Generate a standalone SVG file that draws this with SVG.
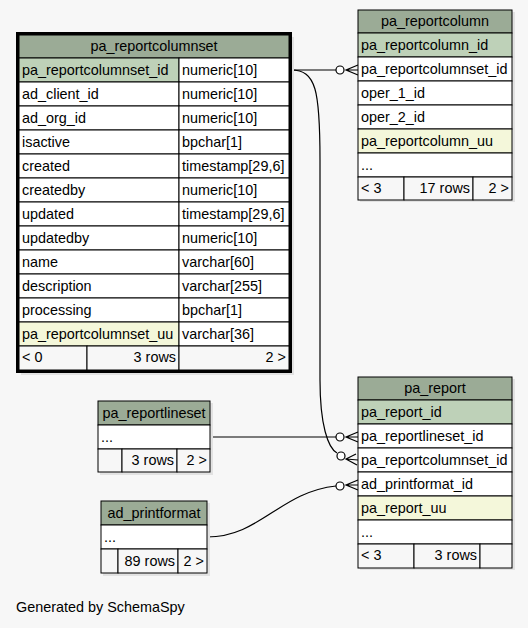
<svg xmlns="http://www.w3.org/2000/svg" width="528" height="628" viewBox="0 0 528 628">
<style>
text{font-family:"Liberation Sans",Arial,sans-serif;font-size:14.4px;fill:#000}
.c{text-anchor:middle}.r{text-anchor:end}
.h{fill:#9bab96;stroke:#000;stroke-width:1}
.pk{fill:#bed1b8;stroke:#000;stroke-width:1}
.uu{fill:#f4f7da;stroke:#000;stroke-width:1}
.w{fill:#fff;stroke:#000;stroke-width:1}
.f{fill:#f7f7f7;stroke:#000;stroke-width:1}
.sh{fill:#e2e2e2}
.ln{fill:none;stroke:#000;stroke-width:1.2}
.ci{fill:#fff;stroke:#000;stroke-width:1.2}
</style>
<rect width="528" height="628" fill="#f7f7f7"/>

<g id="connectors">
  <path class="ln" d="M291,70 L336,70"/>
  <circle class="ci" cx="340" cy="70" r="4"/>
  <path class="ln" d="M358,65 L346,70 L358,75 M346,70 L358,70"/>

  <path class="ln" d="M291,70 C316,70 320,90 320,160 L320,380 C320,425 328,448 337,453"/>
  <circle class="ci" cx="341" cy="456" r="4"/>
  <path class="ln" d="M356,454 L346,459 L357,465 M346,459 L358,460"/>

  <path class="ln" d="M210,437 L336,437"/>
  <circle class="ci" cx="340" cy="437" r="4"/>
  <path class="ln" d="M358,432 L346,437 L358,442 M346,437 L358,437"/>

  <path class="ln" d="M207,537 C260,537 280,492 336,486"/>
  <circle class="ci" cx="340" cy="486" r="4"/>
  <path class="ln" d="M358,480 L346,485 L358,490 M346,485 L358,485"/>
</g>

<g id="pa_reportcolumnset">
  <rect class="sh" x="21" y="37" width="273" height="338"/>
  <rect class="h" x="19" y="35" width="270" height="23"/>
  <text class="c" x="154" y="51">pa_reportcolumnset</text>
  <rect class="pk" x="19" y="58" width="160" height="24"/><rect class="w" x="179" y="58" width="110" height="24"/>
  <text x="22" y="75">pa_reportcolumnset_id</text><text x="182" y="75">numeric[10]</text>
  <rect class="w" x="19" y="82" width="160" height="24"/><rect class="w" x="179" y="82" width="110" height="24"/>
  <text x="22" y="99">ad_client_id</text><text x="182" y="99">numeric[10]</text>
  <rect class="w" x="19" y="106" width="160" height="24"/><rect class="w" x="179" y="106" width="110" height="24"/>
  <text x="22" y="123">ad_org_id</text><text x="182" y="123">numeric[10]</text>
  <rect class="w" x="19" y="130" width="160" height="24"/><rect class="w" x="179" y="130" width="110" height="24"/>
  <text x="22" y="147">isactive</text><text x="182" y="147">bpchar[1]</text>
  <rect class="w" x="19" y="154" width="160" height="24"/><rect class="w" x="179" y="154" width="110" height="24"/>
  <text x="22" y="171">created</text><text x="182" y="171">timestamp[29,6]</text>
  <rect class="w" x="19" y="178" width="160" height="24"/><rect class="w" x="179" y="178" width="110" height="24"/>
  <text x="22" y="195">createdby</text><text x="182" y="195">numeric[10]</text>
  <rect class="w" x="19" y="202" width="160" height="24"/><rect class="w" x="179" y="202" width="110" height="24"/>
  <text x="22" y="219">updated</text><text x="182" y="219">timestamp[29,6]</text>
  <rect class="w" x="19" y="226" width="160" height="24"/><rect class="w" x="179" y="226" width="110" height="24"/>
  <text x="22" y="243">updatedby</text><text x="182" y="243">numeric[10]</text>
  <rect class="w" x="19" y="250" width="160" height="24"/><rect class="w" x="179" y="250" width="110" height="24"/>
  <text x="22" y="267">name</text><text x="182" y="267">varchar[60]</text>
  <rect class="w" x="19" y="274" width="160" height="24"/><rect class="w" x="179" y="274" width="110" height="24"/>
  <text x="22" y="291">description</text><text x="182" y="291">varchar[255]</text>
  <rect class="w" x="19" y="298" width="160" height="24"/><rect class="w" x="179" y="298" width="110" height="24"/>
  <text x="22" y="315">processing</text><text x="182" y="315">bpchar[1]</text>
  <rect class="uu" x="19" y="322" width="160" height="24"/><rect class="w" x="179" y="322" width="110" height="24"/>
  <text x="22" y="339">pa_reportcolumnset_uu</text><text x="182" y="339">varchar[36]</text>
  <rect class="f" x="19" y="346" width="68" height="24"/><rect class="f" x="87" y="346" width="92" height="24"/><rect class="f" x="179" y="346" width="110" height="24"/>
  <text x="22" y="362">&lt; 0</text><text class="r" x="176" y="362">3 rows</text><text class="r" x="286" y="362">2 &gt;</text>
  <rect x="17.5" y="33.5" width="273" height="338" fill="none" stroke="#000" stroke-width="3"/>
</g>

<g id="pa_reportcolumn">
  <rect class="sh" x="360" y="12" width="155" height="190"/>
  <rect class="h" x="358" y="10" width="154" height="23"/>
  <text class="c" x="435" y="26">pa_reportcolumn</text>
  <rect class="pk" x="358" y="33" width="154" height="24"/><text x="361" y="50">pa_reportcolumn_id</text>
  <rect class="w" x="358" y="57" width="154" height="24"/><text x="361" y="74">pa_reportcolumnset_id</text>
  <rect class="w" x="358" y="81" width="154" height="24"/><text x="361" y="98">oper_1_id</text>
  <rect class="w" x="358" y="105" width="154" height="24"/><text x="361" y="122">oper_2_id</text>
  <rect class="uu" x="358" y="129" width="154" height="24"/><text x="361" y="146">pa_reportcolumn_uu</text>
  <rect class="w" x="358" y="153" width="154" height="24"/><text x="361" y="170">...</text>
  <rect class="f" x="358" y="177" width="46" height="23"/><rect class="f" x="404" y="177" width="69" height="23"/><rect class="f" x="473" y="177" width="39" height="23"/>
  <text x="361" y="193">&lt; 3</text><text class="r" x="470" y="193">17 rows</text><text class="r" x="509" y="193">2 &gt;</text>
</g>

<g id="pa_report">
  <rect class="sh" x="360" y="379" width="155" height="191"/>
  <rect class="h" x="358" y="377" width="154" height="23"/>
  <text class="c" x="435" y="393">pa_report</text>
  <rect class="pk" x="358" y="400" width="154" height="24"/><text x="361" y="417">pa_report_id</text>
  <rect class="w" x="358" y="424" width="154" height="24"/><text x="361" y="441">pa_reportlineset_id</text>
  <rect class="w" x="358" y="448" width="154" height="24"/><text x="361" y="465">pa_reportcolumnset_id</text>
  <rect class="w" x="358" y="472" width="154" height="24"/><text x="361" y="489">ad_printformat_id</text>
  <rect class="uu" x="358" y="496" width="154" height="24"/><text x="361" y="513">pa_report_uu</text>
  <rect class="w" x="358" y="520" width="154" height="24"/><text x="361" y="537">...</text>
  <rect class="f" x="358" y="544" width="56" height="24"/><rect class="f" x="414" y="544" width="66" height="24"/><rect class="f" x="480" y="544" width="32" height="24"/>
  <text x="361" y="560">&lt; 3</text><text class="r" x="477" y="560">3 rows</text>
</g>

<g id="pa_reportlineset">
  <rect class="sh" x="100" y="403" width="113" height="72"/>
  <rect class="h" x="98" y="401" width="112" height="24"/>
  <text class="c" x="154" y="418">pa_reportlineset</text>
  <rect class="w" x="98" y="425" width="112" height="24"/><text x="101" y="442">...</text>
  <rect class="f" x="98" y="449" width="24" height="23"/><rect class="f" x="122" y="449" width="55" height="23"/><rect class="f" x="177" y="449" width="33" height="23"/>
  <text class="r" x="174" y="465">3 rows</text><text class="r" x="207" y="465">2 &gt;</text>
</g>

<g id="ad_printformat">
  <rect class="sh" x="103" y="503" width="107" height="73"/>
  <rect class="h" x="101" y="501" width="106" height="24"/>
  <text class="c" x="154" y="518">ad_printformat</text>
  <rect class="w" x="101" y="525" width="106" height="24"/><text x="104" y="542">...</text>
  <rect class="f" x="101" y="549" width="17" height="24"/><rect class="f" x="118" y="549" width="60" height="24"/><rect class="f" x="178" y="549" width="29" height="24"/>
  <text class="r" x="175" y="566">89 rows</text><text class="r" x="204" y="566">2 &gt;</text>
</g>

<text x="16" y="612">Generated by SchemaSpy</text>
</svg>
